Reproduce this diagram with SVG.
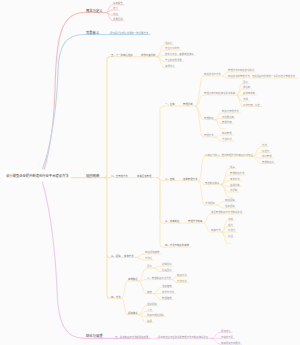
<svg xmlns="http://www.w3.org/2000/svg" width="300" height="345" viewBox="0 0 300 345">
<style>
text{font-family:"Noto Sans CJK SC","Noto Sans",sans-serif}
.tr{font-size:3.3px;fill:#333}
.tb{font-size:3.3px;fill:#444}
.tn{font-size:2.4px;fill:#7a7a7a}
.tl{font-size:2.4px;fill:#9a9a9a}
.m{fill:none;stroke-width:1.1;stroke-linecap:round}
.s{fill:none;stroke-width:0.7;stroke-linecap:round}
.u{fill:none;stroke-width:0.6;stroke-linecap:round}
.o{stroke:#fde4ad}.r{stroke:#f8bcbc}.b{stroke:#b6daf6}.p{stroke:#f4c8ec}
</style>
<rect width="300" height="345" fill="#fbfbfb"/>
<g id="connectors">
<path class="m r" d="M44 170 C50 150 54 120 55 90 C56 40 60 12.5 84 12.5 H106"/>
<path class="m b" d="M42 170 C50 150 57 110 58 70 C59 45 66 34.5 84 34.5 H150"/>
<path class="m p" d="M42 181 C48 200 55 240 57 290 C58 325 66 338.4 84 338.4 H150"/>
<path class="m o" d="M71 177.6 H104"/>
<path class="s r" d="M106 12.5 C109 12.5 109 4.8 112 4.8 M106 12.5 C109 12.5 109 10 112 10 M106 12.5 C109 12.5 109 15.2 112 15.2 M106 12.5 C109 12.5 109 20.4 112 20.4"/>
<path class="m o" d="M104 177.6 Q107 177.6 107 174.6 V59.6 Q107 56.6 110 56.6 M104 177.6 H110 M104 177.6 Q107 177.6 107 180.6 V254.4 Q107 257.4 110 257.4 M104 177.6 Q107 177.6 107 180.6 V295.4 Q107 298.4 110 298.4"/>
<path class="s o" d="M134 56.6 H140 M129.5 177.6 H136 M176 106.1 H182 M176 180.8 H182 M181 223.1 H187 M122 257.4 H123"/>
<path class="s o" d="M157 56.6 C160.5 56.6 160.5 44.6 164 44.6 M157 56.6 C160.5 56.6 160.5 50.1 164 50.1 M157 56.6 C160.5 56.6 160.5 55.6 164 55.6 M157 56.6 C160.5 56.6 160.5 61.6 164 61.6 M157 56.6 C160.5 56.6 160.5 67.6 164 67.6"/>
<path class="s o" d="M153 177.6 H157 Q160 177.6 160 174.6 V109.1 Q160 106.1 163 106.1 H164 M157 177.6 Q160 177.6 160 179 Q160 180.8 163 180.8 H164 M157 177.6 Q160 177.6 160 180.6 V220.1 Q160 223.1 163 223.1 H164 M157 177.6 Q160 177.6 160 180.6 V244.1 Q160 247.1 163 247.1 H164"/>
<path class="s o" d="M196 106.1 C199.5 106.1 199.5 76.1 203 76.1 M196 106.1 C199.5 106.1 199.5 95.1 203 95.1 M196 106.1 C199.5 106.1 199.5 119.6 203 119.6 M196 106.1 C199.5 106.1 199.5 137.1 203 137.1"/>
<path class="s o" d="M223 76.1 C225 76.1 225 72.1 227 72.1 M223 76.1 C225 76.1 225 78.1 227 78.1"/>
<path class="s o" d="M237 95.1 C239.5 95.1 239.5 83.6 242 83.6 M237 95.1 C239.5 95.1 239.5 89.1 242 89.1 M237 95.1 H242 M237 95.1 C239.5 95.1 239.5 101.1 242 101.1 M237 95.1 C239.5 95.1 239.5 106.6 242 106.6"/>
<path class="s o" d="M215 119.6 C218 119.6 218 113.1 221 113.1 M215 119.6 C218 119.6 218 118.4 221 118.4 M215 119.6 C218 119.6 218 123.6 221 123.6 M215 119.6 C218 119.6 218 128.6 221 128.6"/>
<path class="s o" d="M215 137.1 C218 137.1 218 135.1 221 135.1 M215 137.1 C218 137.1 218 141.1 221 141.1"/>
<path class="s o" d="M199 180.8 C201.5 180.8 201.5 156.4 204 156.4 M199 180.8 C201.5 180.8 201.5 184.6 204 184.6 M199 180.8 C201.5 180.8 201.5 205.1 204 205.1"/>
<path class="s o" d="M252 156.4 C256.5 156.4 256.5 146.6 261 146.6 M252 156.4 C256.5 156.4 256.5 152.4 261 152.4 M252 156.4 C256.5 156.4 256.5 158.1 261 158.1 M252 156.4 C256.5 156.4 256.5 163.6 261 163.6"/>
<path class="s o" d="M221 184.6 C225 184.6 225 168.6 229 168.6 M221 184.6 C225 184.6 225 175.1 229 175.1 M221 184.6 C225 184.6 225 180.6 229 180.6 M221 184.6 C225 184.6 225 186.4 229 186.4 M221 184.6 C225 184.6 225 192.1 229 192.1 M221 184.6 C225 184.6 225 197.6 229 197.6"/>
<path class="s o" d="M216 205.1 C220 205.1 220 201.6 224 201.6 M216 205.1 C220 205.1 220 208.1 224 208.1"/>
<path class="s o" d="M204 223.1 C207 223.1 207 214.1 210 214.1 M204 223.1 C207 223.1 207 232.1 210 232.1"/>
<path class="s o" d="M222 232.1 C224.5 232.1 224.5 220.6 227 220.6 M222 232.1 C224.5 232.1 224.5 226.4 227 226.4 M222 232.1 H227 M222 232.1 C224.5 232.1 224.5 237.6 227 237.6 M222 232.1 C224.5 232.1 224.5 243.4 227 243.4"/>
<path class="s o" d="M136 257.4 C140 257.4 140 254.1 144 254.1 M136 257.4 C140 257.4 140 260.1 144 260.1"/>
<path class="s o" d="M122 298.4 C124.5 298.4 124.5 281.1 127 281.1 M122 298.4 C124.5 298.4 124.5 314.6 127 314.6"/>
<path class="s o" d="M139 281.1 C142.5 281.1 142.5 268.1 146 268.1 M139 281.1 C142.5 281.1 142.5 279.6 146 279.6 M139 281.1 C142.5 281.1 142.5 293.6 146 293.6"/>
<path class="s o" d="M153.3 268.1 C157 268.1 157 266.1 161 266.1 M153.3 268.1 C157 268.1 157 271.6 161 271.6"/>
<path class="s o" d="M172.5 279.6 C174.3 279.6 174.3 276.6 176 276.6 M172.5 279.6 C174.3 279.6 174.3 282.6 176 282.6"/>
<path class="s o" d="M153.3 293.6 C157 293.6 157 287.6 161 287.6 M153.3 293.6 H161 M153.3 293.6 C157 293.6 157 299.6 161 299.6"/>
<path class="s o" d="M139 314.6 C142.5 314.6 142.5 305.6 146 305.6 M139 314.6 C142.5 314.6 142.5 311.4 146 311.4 M139 314.6 C142.5 314.6 142.5 316.9 146 316.9 M139 314.6 C142.5 314.6 142.5 322.6 146 322.6"/>
<path class="s p" d="M150 338.4 H157 M211 338.4 C215.5 338.4 215.5 332.4 220 332.4 M211 338.4 H220 M211 338.4 C215.5 338.4 215.5 344.2 220 344.2"/>
</g>
<g id="root"><rect x="3" y="169.5" width="68" height="12" rx="6" fill="#fff"/><text class="tr" x="6" y="176.7">谈小微型企业提升制造化行业平台建设方法</text></g>
<g id="b-red"><text class="tb" x="86" y="11.5">概念与定义</text></g>
<g id="r1"><path class="u r" d="M112 4.8 H124"/><text class="tl" x="113" y="4.1">基本概念</text></g>
<g id="r2"><path class="u r" d="M112 10 H119"/><text class="tl" x="113" y="9.3">定义</text></g>
<g id="r3"><path class="u r" d="M112 15.2 H119"/><text class="tl" x="113" y="14.5">特征</text></g>
<g id="r4"><path class="u r" d="M112 20.4 H124"/><text class="tl" x="113" y="19.7">发展历程</text></g>
<g id="b-blue"><text class="tb" x="86" y="33.5">背景意义</text></g>
<g id="bl1"><text class="tl" x="110" y="33.8">研究是行业理论发展的一种重要方法</text></g>
<g id="b-orange"><text class="tb" x="86" y="176.6">组织网络</text></g>
<g id="A"><path class="s o" d="M110 56.6 H134"/><text class="tn" x="111" y="55.9">五、六一建制之组织</text></g>
<g id="A1"><path class="s o" d="M140 56.6 H157"/><text class="tn" x="141" y="55.9">成效与其机制</text></g>
<g id="A1a"><path class="u o" d="M164 44.6 H173.7"/><text class="tl" x="165" y="43.9">组织化</text></g>
<g id="A1b"><path class="u o" d="M164 50.1 H180.9"/><text class="tl" x="165" y="49.4">专业分工协作</text></g>
<g id="A1c"><path class="u o" d="M164 55.6 H195.3"/><text class="tl" x="165" y="54.9">数字化平台、智能制造体系</text></g>
<g id="A1d"><path class="u o" d="M164 61.6 H183.3"/><text class="tl" x="165" y="60.9">产业链协同发展</text></g>
<g id="A1e"><path class="u o" d="M164 67.6 H176.1"/><text class="tl" x="165" y="66.9">资源共享</text></g>
<g id="B"><path class="s o" d="M110 177.6 H129.5"/><text class="tn" x="111" y="176.9">二、五管理方法</text></g>
<g id="B0"><path class="s o" d="M136 177.6 H153"/><text class="tn" x="137" y="176.9">完善区域管理</text></g>
<g id="B1"><path class="s o" d="M164 106.1 H176"/><text class="tn" x="165" y="105.4">一、主体</text></g>
<g id="B1m"><path class="s o" d="M182 106.1 H196"/><text class="tn" x="183" y="105.4">管理机制</text></g>
<g id="B1a"><path class="u o" d="M203 76.1 H223"/><text class="tl" x="204" y="75.4">制度建设与方法</text></g>
<g id="B1a1"><path class="u o" d="M227 72.1 H255.9"/><text class="tl" x="228" y="71.4">管理方法与制度建设规范</text></g>
<g id="B1a2"><path class="u o" d="M227 78.1 H298"/><text class="tl" x="228" y="77.4">制度建设的管理方法，包括运营中形成的一系列标准化管理办法</text></g>
<g id="B1b"><path class="u o" d="M203 95.1 H237"/><text class="tl" x="204" y="94.4">管理手册与制度体系建设完善</text></g>
<g id="B1b1"><path class="u o" d="M242 83.6 H249.3"/><text class="tl" x="243" y="82.9">目标</text></g>
<g id="B1b2"><path class="u o" d="M242 89.1 H251.7"/><text class="tl" x="243" y="88.4">责任制</text></g>
<g id="B1b3"><path class="u o" d="M242 95.1 H256.5"/><text class="tl" x="243" y="94.4">绩效考核制</text></g>
<g id="B1b4"><path class="u o" d="M242 101.1 H249.3"/><text class="tl" x="243" y="100.4">流程</text></g>
<g id="B1b5"><path class="u o" d="M242 106.6 H261.3"/><text class="tl" x="243" y="105.9">工作方案、标准</text></g>
<g id="B1c"><path class="u o" d="M203 119.6 H215"/><text class="tl" x="204" y="118.9">管理制度</text></g>
<g id="B1c1"><path class="u o" d="M221 113.1 H240.3"/><text class="tl" x="222" y="112.4">制度化管理方法</text></g>
<g id="B1c2"><path class="u o" d="M221 118.4 H235.5"/><text class="tl" x="222" y="117.7">岗位责任制</text></g>
<g id="B1c3"><path class="u o" d="M221 123.6 H233.1"/><text class="tl" x="222" y="122.9">管理方案</text></g>
<g id="B1c4"><path class="u o" d="M221 128.6 H226"/></g>
<g id="B1d"><path class="u o" d="M203 137.1 H215"/><text class="tl" x="204" y="136.4">管理方法</text></g>
<g id="B1d1"><path class="u o" d="M221 135.1 H233.1"/><text class="tl" x="222" y="134.4">制度管理</text></g>
<g id="B1d2"><path class="u o" d="M221 141.1 H233.1"/><text class="tl" x="222" y="140.4">方法创新</text></g>
<g id="B2"><path class="s o" d="M164 180.8 H176"/><text class="tn" x="165" y="180.1">二、控制</text></g>
<g id="B2m"><path class="s o" d="M182 180.8 H199"/><text class="tn" x="183" y="180.1">控制管理方法</text></g>
<g id="B2a"><path class="u o" d="M204 156.4 H252"/><text class="tl" x="205" y="155.7">以制度为核心，推动管理方法与制度创新结合</text></g>
<g id="B2a1"><path class="u o" d="M261 146.6 H268.3"/><text class="tl" x="262" y="145.9">方法</text></g>
<g id="B2a2"><path class="u o" d="M261 152.4 H270.7"/><text class="tl" x="262" y="151.7">标准化</text></g>
<g id="B2a3"><path class="u o" d="M261 158.1 H273.1"/><text class="tl" x="262" y="157.4">规范管理</text></g>
<g id="B2a4"><path class="u o" d="M261 163.6 H275.5"/><text class="tl" x="262" y="162.9">管理制度化</text></g>
<g id="B2b"><path class="u o" d="M204 184.6 H221"/><text class="tl" x="205" y="183.9">管控制度体系</text></g>
<g id="B2b1"><path class="u o" d="M229 168.6 H236.3"/><text class="tl" x="230" y="167.9">规章</text></g>
<g id="B2b2"><path class="u o" d="M229 175.1 H245.9"/><text class="tl" x="230" y="174.4">管理制度办法</text></g>
<g id="B2b3"><path class="u o" d="M229 180.6 H241.1"/><text class="tl" x="230" y="179.9">考核方法</text></g>
<g id="B2b4"><path class="u o" d="M229 186.4 H241.1"/><text class="tl" x="230" y="185.7">监督机制</text></g>
<g id="B2b5"><path class="u o" d="M229 192.1 H238.7"/><text class="tl" x="230" y="191.4">奖惩制</text></g>
<g id="B2b6"><path class="u o" d="M229 197.6 H233"/></g>
<g id="B2c"><path class="u o" d="M204 205.1 H216"/><text class="tl" x="205" y="204.4">方法保障</text></g>
<g id="B2c1"><path class="u o" d="M224 201.6 H236.1"/><text class="tl" x="225" y="200.9">制度保障</text></g>
<g id="B2c2"><path class="u o" d="M224 208.1 H236.1"/><text class="tl" x="225" y="207.4">组织保障</text></g>
<g id="B3"><path class="s o" d="M164 223.1 H181"/><text class="tn" x="165" y="222.4">三、完善制度</text></g>
<g id="B3m"><path class="s o" d="M187 223.1 H204"/><text class="tn" x="188" y="222.4">管理方法完善</text></g>
<g id="B3a"><path class="u o" d="M210 214.1 H243.7"/><text class="tl" x="211" y="213.4">健全管理制度与方法体系建设</text></g>
<g id="B3b"><path class="u o" d="M210 232.1 H222"/><text class="tl" x="211" y="231.4">完善方法</text></g>
<g id="B3b1"><path class="u o" d="M227 220.6 H234.3"/><text class="tl" x="228" y="219.9">流程</text></g>
<g id="B3b2"><path class="u o" d="M227 226.4 H234.3"/><text class="tl" x="228" y="225.7">规范</text></g>
<g id="B3b3"><path class="u o" d="M227 232.1 H236.7"/><text class="tl" x="228" y="231.4">标准化</text></g>
<g id="B3b4"><path class="u o" d="M227 237.6 H234.3"/><text class="tl" x="228" y="236.9">创新</text></g>
<g id="B3b5"><path class="u o" d="M227 243.4 H231"/></g>
<g id="B4"><path class="s o" d="M164 247.1 H190.5"/><text class="tn" x="165" y="246.4">四、方法与制度的实施</text></g>
<g id="C"><path class="s o" d="M110 257.4 H122"/><text class="tn" x="111" y="256.7">三、保障</text></g>
<g id="C0"><path class="s o" d="M123 257.4 H136"/><text class="tn" x="124" y="256.7">实施方法</text></g>
<g id="C1"><path class="u o" d="M144 254.1 H160.9"/><text class="tl" x="145" y="253.4">制度保障措施</text></g>
<g id="C2"><path class="u o" d="M144 260.1 H153.7"/><text class="tl" x="145" y="259.4">方法论</text></g>
<g id="D"><path class="s o" d="M110 298.4 H122"/><text class="tn" x="111" y="297.7">四、方法</text></g>
<g id="D1"><path class="s o" d="M127 281.1 H139"/><text class="tn" x="128" y="280.4">实施路径</text></g>
<g id="D1a"><path class="u o" d="M146 268.1 H153.3"/><text class="tl" x="147" y="267.4">目标</text></g>
<g id="D1a1"><path class="u o" d="M161 266.1 H173.1"/><text class="tl" x="162" y="265.4">总体目标</text></g>
<g id="D1a2"><path class="u o" d="M161 271.6 H173.1"/><text class="tl" x="162" y="270.9">阶段目标</text></g>
<g id="D1b"><path class="u o" d="M146 279.6 H172.5"/><text class="tl" x="147" y="278.9">二、管理制度创新方法</text></g>
<g id="D1b1"><path class="u o" d="M176 276.6 H188.1"/><text class="tl" x="177" y="275.9">制度创新</text></g>
<g id="D1b2"><path class="u o" d="M176 282.6 H188.1"/><text class="tl" x="177" y="281.9">方法创新</text></g>
<g id="D1c"><path class="u o" d="M146 293.6 H153.3"/><text class="tl" x="147" y="292.9">措施</text></g>
<g id="D1c1"><path class="u o" d="M161 287.6 H173.1"/><text class="tl" x="162" y="286.9">组织措施</text></g>
<g id="D1c2"><path class="u o" d="M161 293.6 H175.5"/><text class="tl" x="162" y="292.9">技术与方法</text></g>
<g id="D1c3"><path class="u o" d="M161 299.6 H173.1"/><text class="tl" x="162" y="298.9">管理措施</text></g>
<g id="D2"><path class="s o" d="M127 314.6 H139"/><text class="tn" x="128" y="313.9">保障体系</text></g>
<g id="D2a"><path class="u o" d="M146 305.6 H158.1"/><text class="tl" x="147" y="304.9">组织保障</text></g>
<g id="D2b"><path class="u o" d="M146 311.4 H153.3"/><text class="tl" x="147" y="310.7">人才</text></g>
<g id="D2c"><path class="u o" d="M146 316.9 H165.3"/><text class="tl" x="147" y="316.2">政策与制度保障</text></g>
<g id="D2d"><path class="u o" d="M146 322.6 H153.3"/><text class="tl" x="147" y="321.9">监督</text></g>
<g id="b-pink"><text class="tb" x="86" y="337.2">结论与展望</text></g>
<g id="P1"><text class="tl" x="115" y="337.7">五、总结制度与方法的研究成果</text></g>
<g id="P2"><path class="s p" d="M157 338.4 H211"/><text class="tl" x="158" y="337.7">提出制造业平台建设的管理方法与制度体系建议</text></g>
<g id="P2a"><path class="u p" d="M220 332.4 H232.1"/><text class="tl" x="221" y="331.7">研究结论</text></g>
<g id="P2b"><path class="u p" d="M220 338.4 H234.5"/><text class="tl" x="221" y="337.7">存在的不足</text></g>
<g id="P2c"><path class="u p" d="M220 344.2 H241.7"/><text class="tl" x="221" y="343.5">未来研究方向展望</text></g>
</svg>
